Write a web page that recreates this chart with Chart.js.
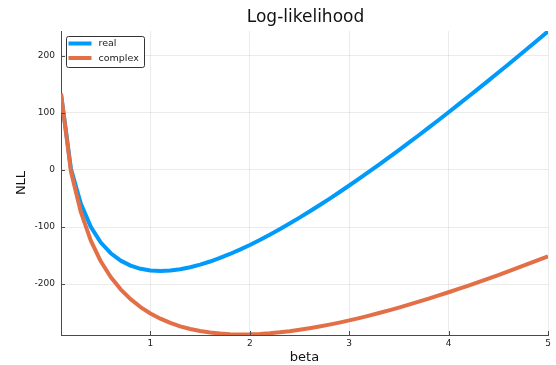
<!DOCTYPE html>
<html>
<head>
<meta charset="utf-8">
<script src="https://cdn.jsdelivr.net/npm/chart.js@4.4.1/dist/chart.umd.min.js"></script>
<style>
  html, body { margin: 0; padding: 0; background: #fff; }
  #wrap { width: 556px; height: 365px; }
</style>
</head>
<body>
<div id="wrap"><canvas id="nllChart" width="556" height="365"></canvas></div>
<script>
// beta grid, 0.1 .. 5.0
const beta = [
  0.1, 0.2, 0.3, 0.4, 0.5, 0.6, 0.7, 0.8, 0.9, 1.0,
  1.1, 1.2, 1.3, 1.4, 1.5, 1.6, 1.7, 1.8, 1.9, 2.0,
  2.1, 2.2, 2.3, 2.4, 2.5, 2.6, 2.7, 2.8, 2.9, 3.0,
  3.1, 3.2, 3.3, 3.4, 3.5, 3.6, 3.7, 3.8, 3.9, 4.0,
  4.1, 4.2, 4.3, 4.4, 4.5, 4.6, 4.7, 4.8, 4.9, 5.0
];

const nllReal = [
  133.0, 2.0, -59.3, -99.8, -127.1, -145.9, -158.9, -167.6, -173.2, -176.1,
  -177.0, -176.2, -173.9, -170.4, -165.9, -160.4, -154.2, -147.2, -139.6, -131.4,
  -122.7, -113.5, -103.9, -94.0, -83.6, -72.9, -61.9, -50.7, -39.2, -27.4,
  -15.4, -3.2, 9.2, 21.8, 34.6, 47.5, 60.6, 73.9, 87.3, 100.8,
  114.5, 128.3, 142.2, 156.2, 170.3, 184.5, 198.9, 213.3, 227.8, 242.4
];

const nllComplex = [
  133.0, -3.0, -74.1, -123.9, -160.0, -187.5, -209.1, -226.3, -240.1, -251.4,
  -260.5, -267.9, -273.8, -278.5, -282.0, -284.7, -286.5, -287.5, -288.0, -287.8,
  -287.1, -285.9, -284.3, -282.3, -279.9, -277.2, -274.2, -270.9, -267.3, -263.4,
  -259.4, -255.1, -250.5, -245.9, -241.0, -235.9, -230.7, -225.4, -219.8, -214.2,
  -208.4, -202.5, -196.5, -190.3, -184.1, -177.7, -171.3, -164.7, -158.0, -151.3
];

const seriesNames = ["real", "complex"];
const xTicks = [1, 2, 3, 4, 5];
const yTicks = [-200, -100, 0, 100, 200];

const blue = "#009afa";
const orange = "#e36f47";
const axisColor = "#4a4a4a";
const font = "DejaVu Sans";

const toPoints = (ys) => beta.map((b, i) => ({ x: b, y: ys[i] }));

// title centred over the plot area
const titlePlugin = {
  id: "plotTitle",
  afterDraw(chart) {
    const { ctx, chartArea } = chart;
    ctx.save();
    ctx.font = "17px '" + font + "'";
    ctx.fillStyle = "#111";
    ctx.textAlign = "center";
    ctx.textBaseline = "middle";
    ctx.fillText("Log-likelihood", (chartArea.left + chartArea.right) / 2 + 1, 17.5);
    ctx.restore();
  }
};

// small tick marks pointing into the plot, like GR does
const innerTicks = {
  id: "innerTicks",
  afterDraw(chart) {
    const { ctx, chartArea, scales } = chart;
    ctx.save();
    ctx.strokeStyle = axisColor;
    ctx.lineWidth = 1;
    ctx.beginPath();
    scales.x.ticks.forEach((t) => {
      const px = Math.round(scales.x.getPixelForValue(t.value)) + 0.5;
      ctx.moveTo(px, chartArea.bottom);
      ctx.lineTo(px, chartArea.bottom - 4);
    });
    scales.y.ticks.forEach((t) => {
      const py = Math.round(scales.y.getPixelForValue(t.value)) + 0.5;
      ctx.moveTo(chartArea.left, py);
      ctx.lineTo(chartArea.left + 4, py);
    });
    ctx.stroke();
    ctx.restore();
  }
};

// legend box in the top-left corner of the plot
const boxLegend = {
  id: "boxLegend",
  afterDraw(chart) {
    const { ctx, chartArea } = chart;
    const x0 = chartArea.left + 5.5;
    const y0 = chartArea.top + 5.5;
    const w = 78, h = 31;
    ctx.save();
    ctx.fillStyle = "#fff";
    ctx.strokeStyle = "#333";
    ctx.lineWidth = 1;
    ctx.beginPath();
    ctx.roundRect(x0, y0, w, h, 2);
    ctx.fill();
    ctx.stroke();
    ctx.font = "9.5px '" + font + "'";
    ctx.textBaseline = "middle";
    ctx.fillStyle = "#222";
    const colors = [blue, orange];
    seriesNames.forEach((name, i) => {
      const ly = y0 + 7 + i * 14.5;
      ctx.strokeStyle = colors[i];
      ctx.lineWidth = 4;
      ctx.beginPath();
      ctx.moveTo(x0 + 2, ly);
      ctx.lineTo(x0 + 25, ly);
      ctx.stroke();
      ctx.fillText(name, x0 + 32, ly + 0.5);
    });
    ctx.restore();
  }
};

new Chart(document.getElementById("nllChart"), {
  type: "line",
  data: {
    datasets: [
      {
        label: seriesNames[0],
        data: toPoints(nllReal),
        borderColor: blue,
        backgroundColor: blue,
        borderWidth: 4,
        borderJoinStyle: "round",
        pointRadius: 0,
        tension: 0,
        order: 1
      },
      {
        label: seriesNames[1],
        data: toPoints(nllComplex),
        borderColor: orange,
        backgroundColor: orange,
        borderWidth: 4,
        borderJoinStyle: "round",
        pointRadius: 0,
        tension: 0,
        order: 0
      }
    ]
  },
  options: {
    responsive: false,
    animation: false,
    layout: { padding: { top: 31, right: 8, bottom: 0, left: 0 } },
    plugins: {
      legend: { display: false },
      title: { display: false },
      tooltip: { enabled: false }
    },
    scales: {
      x: {
        type: "linear",
        min: 0.1,
        max: 5,
        afterBuildTicks: (s) => { s.ticks = xTicks.map((v) => ({ value: v })); },
        afterFit: (s) => { s.height = 30; },
        grid: { color: "rgba(0,0,0,0.08)", drawTicks: false },
        border: { color: axisColor, width: 1 },
        ticks: {
          padding: 3,
          color: "#222",
          font: { family: font, size: 9 },
          maxRotation: 0
        },
        title: {
          display: true,
          text: "beta",
          color: "#111",
          font: { family: font, size: 13 },
          padding: { top: 0, bottom: 0 }
        }
      },
      y: {
        type: "linear",
        min: -289,
        max: 243,
        afterBuildTicks: (s) => { s.ticks = yTicks.map((v) => ({ value: v })); },
        afterFit: (s) => { s.width = 61; },
        grid: { color: "rgba(0,0,0,0.08)", drawTicks: false },
        border: { color: axisColor, width: 1 },
        ticks: {
          padding: 6,
          color: "#222",
          font: { family: font, size: 9 }
        },
        title: {
          display: true,
          text: "NLL",
          color: "#111",
          font: { family: font, size: 13 },
          padding: { top: 14, bottom: 0 }
        }
      }
    }
  },
  plugins: [titlePlugin, innerTicks, boxLegend]
});
</script>
</body>
</html>
